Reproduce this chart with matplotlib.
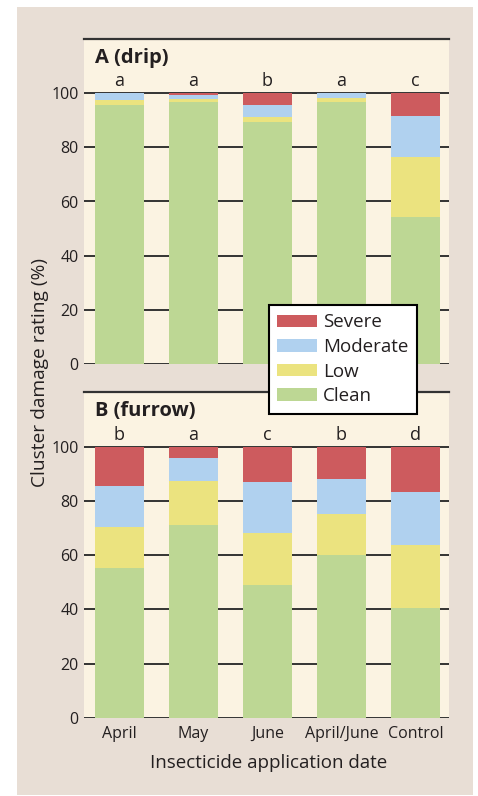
import numpy as np
import matplotlib.pyplot as plt
from matplotlib.patches import Rectangle, Patch

plt.rcParams['font.family'] = ['Open Sans', 'DejaVu Sans']

dates = ['April', 'May', 'June', 'April/June', 'Control']
levels = ['Clean', 'Low', 'Moderate', 'Severe']
colors = {'Clean': '#bdd794', 'Low': '#ebe37f', 'Moderate': '#b0d1ef', 'Severe': '#cd5b5e'}

# stacked percentages (Clean, Low, Moderate, Severe)
drip_clean = [95.7, 96.8, 89.4, 96.8, 54.4]
drip_low = [1.8, 1.1, 1.9, 1.4, 22.1]
drip_moderate = [2.5, 1.3, 4.3, 1.8, 15.1]
drip_severe = [0.0, 0.8, 4.4, 0.0, 8.4]
drip_letters = ['a', 'a', 'b', 'a', 'c']

furrow_clean = [55.2, 71.0, 49.0, 60.0, 40.7]
furrow_low = [15.1, 16.2, 19.1, 15.1, 23.0]
furrow_moderate = [15.1, 8.5, 18.8, 12.9, 19.5]
furrow_severe = [14.6, 4.3, 13.1, 12.0, 16.8]
furrow_letters = ['b', 'a', 'c', 'b', 'd']

cream = '#fbf3e2'
beige = '#e8ded5'
dark = '#333333'
ink = '#231f20'

fig = plt.figure(figsize=(4.78, 7.96), dpi=100)
fig.patches.append(Rectangle((17/478, 1/796), 456/478, 788/796, transform=fig.transFigure,
                             facecolor=beige, edgecolor='none', zorder=-10))


def panel(rect, title, series, letters, show_x):
    ax = fig.add_axes(rect)
    ax.set_facecolor(cream)
    x = np.arange(len(dates))
    bottom = np.zeros(len(dates))
    for lev, vals in zip(levels, series):
        ax.bar(x, vals, 0.66, bottom=bottom, color=colors[lev], label=lev, zorder=3)
        bottom += np.array(vals)
    ax.set_xlim(-0.477, 4.455)
    ax.set_ylim(0, 120)
    ax.set_yticks([0, 20, 40, 60, 80, 100])
    ax.yaxis.grid(True, color=dark, lw=1.4)
    ax.set_axisbelow(True)
    for s in ['left', 'right', 'bottom']:
        ax.spines[s].set_visible(False)
    ax.spines['top'].set_color(dark)
    ax.spines['top'].set_linewidth(1.6)
    ax.tick_params(axis='y', length=0, pad=4, labelsize=11.5, labelcolor=ink)
    ax.tick_params(axis='x', length=0, pad=6, labelsize=11.5, labelcolor=ink)
    ax.set_xticks(x)
    if show_x:
        ax.set_xticklabels(dates)
    else:
        ax.set_xticklabels([])
    for xi, let in zip(x, letters):
        ax.text(xi, 102.5, let, ha='center', va='baseline', fontsize=13, color=ink)
    ax.text(-0.33, 111.2, title, ha='left', va='baseline', fontsize=14.5, fontweight='bold',
            color=ink)
    return ax


axA = panel([84/478, 1-364.3/796, 365/478, 325.6/796], 'A (drip)',
            [drip_clean, drip_low, drip_moderate, drip_severe], drip_letters, False)
axB = panel([84/478, 1-718/796, 365/478, 325.7/796], 'B (furrow)',
            [furrow_clean, furrow_low, furrow_moderate, furrow_severe], furrow_letters, True)

handles = [Patch(facecolor=colors[l], edgecolor='none') for l in levels[::-1]]
leg = fig.legend(handles, levels[::-1], loc='upper left', bbox_to_anchor=(269/478, 1-305/796),
                 borderaxespad=0, fancybox=False, framealpha=1, edgecolor='black',
                 fontsize=13.5, handlelength=2.1, handleheight=0.65, handletextpad=0.35,
                 labelspacing=0.35, borderpad=0.45)
leg.get_frame().set_linewidth(1.5)
leg.set_zorder(20)
for t in leg.get_texts():
    t.set_color(ink)

fig.text(40/478, 1-372.5/796, 'Cluster damage rating (%)', rotation=90, ha='center', va='center',
         fontsize=13.8, color=ink)
fig.text(268.7/478, 1-763/796, 'Insecticide application date', ha='center', va='center',
         fontsize=13.5, color=ink)

fig.savefig('out.png', dpi=100)
